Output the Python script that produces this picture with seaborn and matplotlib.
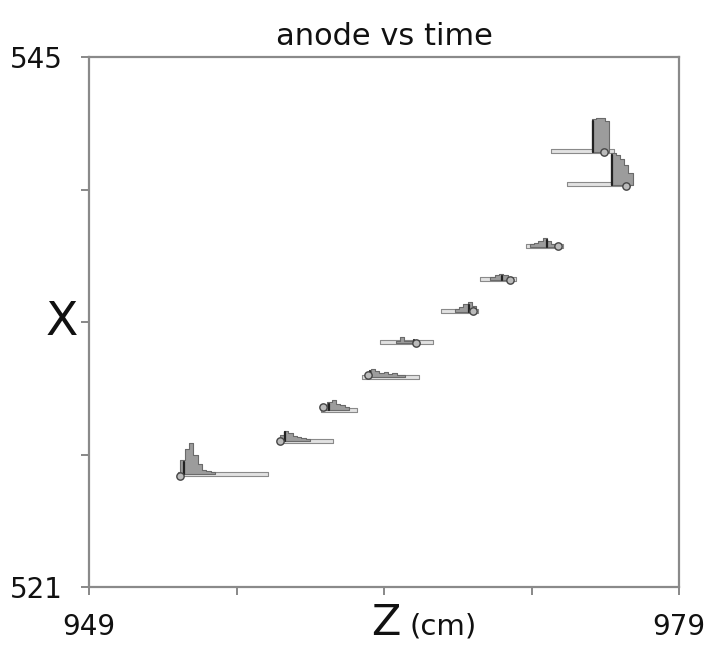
import numpy as np
import pandas as pd
import matplotlib.pyplot as plt
import seaborn as sns

# ------------------
# Data (Z in cm, X in cm)
# ------------------
bar_start = [953.5, 958.6, 960.8, 962.9, 963.8, 966.9, 968.9, 971.2, 972.5, 973.3]
bar_end = [958.1, 961.4, 962.6, 965.8, 966.5, 968.8, 970.7, 973.1, 975.7, 976.5]
baseline = [526.1, 527.6, 529.0, 530.5, 532.05, 533.45, 534.9, 536.4, 540.7, 539.2]

# pulse shape of each hit: start of the first bin and bin heights
pulse_start = [953.65, 958.7, 960.9, 963.1, 964.6, 967.6, 969.4, 971.4, 974.55, 975.55]
pulse_heights = [
    [0.63, 1.13, 1.40, 0.90, 0.45, 0.18, 0.14, 0.09],
    [0.27, 0.45, 0.36, 0.23, 0.18, 0.14, 0.09],
    [0.18, 0.36, 0.45, 0.27, 0.23, 0.14],
    [0.23, 0.36, 0.27, 0.18, 0.23, 0.14, 0.18, 0.09, 0.09],
    [0.10, 0.27, 0.10, 0.10],
    [0.14, 0.23, 0.36, 0.45, 0.27],
    [0.14, 0.23, 0.27, 0.23, 0.14],
    [0.14, 0.18, 0.27, 0.40, 0.27, 0.14],
    [1.50, 1.54, 1.54, 1.40],
    [1.45, 1.36, 1.18, 0.90, 0.55],
]
bin_width = 0.22

# dark peak markers
peak_z = [953.85, 958.95, 961.2, 963.3, 965.5, 968.3, 970.0, 972.3, 974.65, 975.6]
peak_h = [0.55, 0.40, 0.30, 0.30, 0.15, 0.30, 0.20, 0.30, 1.40, 1.35]

# small circles
circle_z = [953.63, 958.7, 960.9, 963.2, 965.6, 968.5, 970.4, 972.85, 975.2, 976.3]
circle_x = [526.03, 527.6, 529.15, 530.6, 532.05, 533.5, 534.9, 536.45, 540.7, 539.15]

sns.set_style("white")
plt.rcParams["font.family"] = ["DejaVu Sans"]

fig = plt.figure(figsize=(7.1, 6.45), dpi=100)
ax = fig.add_axes([0.1254, 0.0899, 0.8310, 0.8217])

for i in range(len(baseline)):
    b = baseline[i]
    # thin light bar for the hit window
    ax.fill_between([bar_start[i], bar_end[i]], b - 0.06, b + 0.12,
                    color="#e2e2e2", edgecolor="#8a8a8a", lw=0.8, zorder=2)
    # pulse histogram
    h = pulse_heights[i]
    edges = pulse_start[i] + bin_width * np.arange(len(h) + 1)
    ax.fill_between(edges, b, b + np.append(h, h[-1]), step="post",
                    color="#9c9c9c", edgecolor="#6a6a6a", lw=0.8, zorder=3)
    # dark peak line
    ax.plot([peak_z[i], peak_z[i]], [b, b + peak_h[i]], color="#222222", lw=1.6, zorder=4)

circles = pd.DataFrame({"z": circle_z, "x": circle_x})
sns.scatterplot(data=circles, x="z", y="x", ax=ax, s=28, facecolor="#bbbbbb",
                edgecolor="#444444", linewidth=1.0, zorder=5)

ax.set_xlim(949, 979)
ax.set_ylim(521, 545)
ax.set_xticks([949, 956.5, 964, 971.5, 979])
ax.set_xticklabels(["949", "", "", "", "979"])
ax.set_yticks([521, 527, 533, 539, 545])
ax.set_yticklabels(["521", "", "", "", "545"])
ax.tick_params(axis="both", direction="out", length=6, width=1.4, color="#888888",
               labelsize=20, labelcolor="#111111", bottom=True, left=True)
ax.tick_params(axis="x", pad=13)
ax.tick_params(axis="y", pad=13)
ax.set_xlabel("")
ax.set_ylabel("")
for s in ax.spines.values():
    s.set_color("#8a8a8a")
    s.set_linewidth(1.6)
    s.set_visible(True)

ax.set_title("anode vs time", fontsize=22, pad=9, color="#111111")
ax.text(0.503, -0.090, "Z", transform=ax.transAxes, fontsize=31, ha="center",
        va="baseline", color="#111111")
ax.text(0.544, -0.090, "(cm)", transform=ax.transAxes, fontsize=21, ha="left",
        va="baseline", color="#111111")
ax.text(-0.047, 0.5, "X", transform=ax.transAxes, fontsize=34, ha="center",
        va="center", color="#111111")

fig.savefig("out.png", dpi=100)
